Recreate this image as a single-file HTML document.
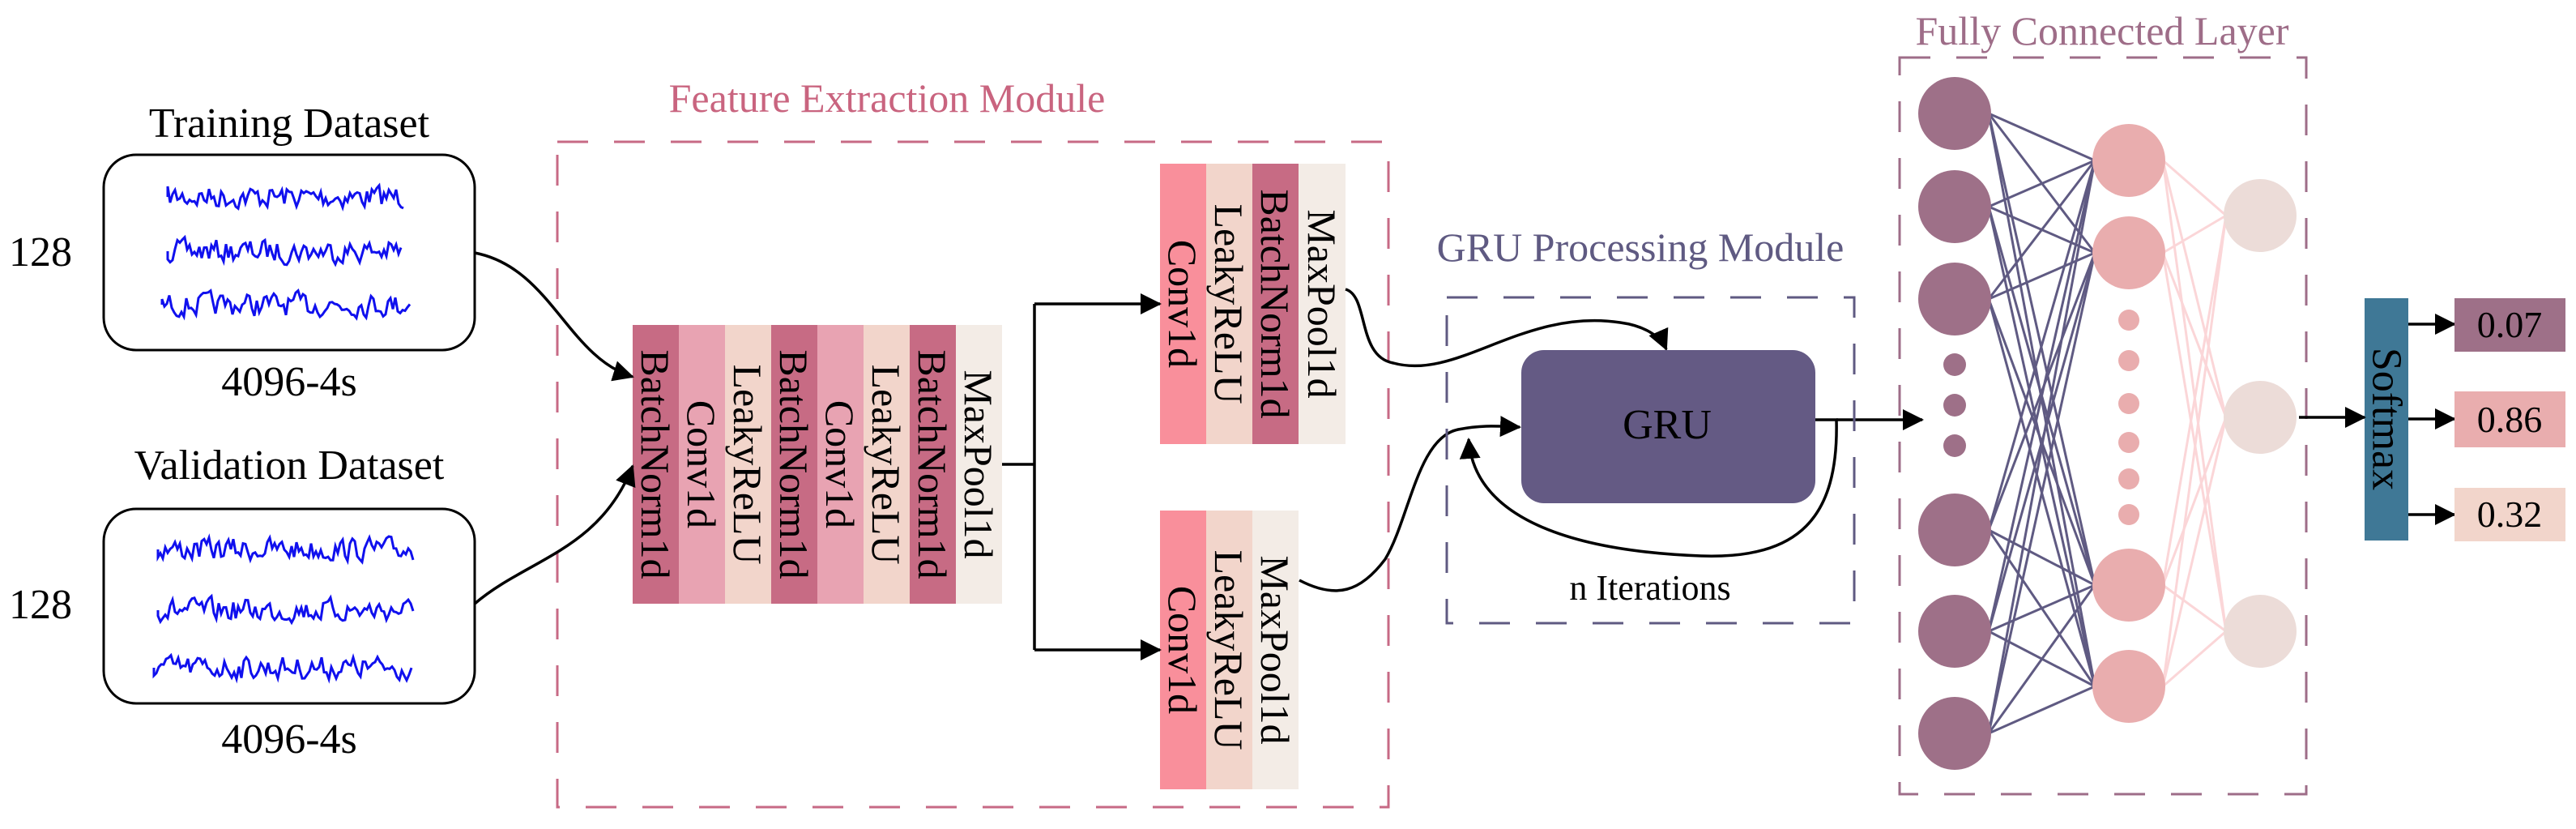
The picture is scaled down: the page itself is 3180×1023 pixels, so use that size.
<!DOCTYPE html>
<html><head><meta charset="utf-8"><style>
html,body{margin:0;padding:0;background:#fff;}
svg text{font-family:"Liberation Serif","DejaVu Serif",serif;}
</style></head><body>
<svg id="s" width="3180" height="1018" viewBox="0 0 3180 1018" xmlns="http://www.w3.org/2000/svg" font-family="Liberation Serif, serif">
<defs>
<marker id="ab" markerWidth="26" markerHeight="26" refX="24" refY="13" orient="auto" markerUnits="userSpaceOnUse" viewBox="0 0 26 26">
<path d="M0,0 L26,13 L0,26 z" fill="#000"/></marker>
</defs>

<!-- datasets -->
<text x="357" y="169" font-size="52" text-anchor="middle">Training Dataset</text>
<rect x="128" y="191" width="458" height="241" rx="40" fill="#fff" stroke="#000" stroke-width="3"/>
<text x="50" y="328" font-size="52" text-anchor="middle">128</text>
<text x="357" y="488" font-size="52" text-anchor="middle">4096-4s</text>
<text x="357" y="591" font-size="52" text-anchor="middle">Validation Dataset</text>
<rect x="128" y="628" width="458" height="240" rx="40" fill="#fff" stroke="#000" stroke-width="3"/>
<text x="50" y="763" font-size="52" text-anchor="middle">128</text>
<text x="357" y="929" font-size="52" text-anchor="middle">4096-4s</text>
<g id="sig" fill="none" stroke="#1010ee" stroke-width="3"></g>

<!-- feature extraction -->
<text x="1095" y="138" font-size="50" text-anchor="middle" fill="#c9647f">Feature Extraction Module</text>
<rect x="688" y="175" width="1026" height="821" fill="none" stroke="#c76a85" stroke-width="3" stroke-dasharray="38,32"/>

<g font-size="50">
<rect x="781" y="401" width="57" height="344" fill="#c76b84"/>
<rect x="838" y="401" width="57" height="344" fill="#e8a3b2"/>
<rect x="895" y="401" width="57" height="344" fill="#f2d5cb"/>
<rect x="952" y="401" width="57" height="344" fill="#c76b84"/>
<rect x="1009" y="401" width="57" height="344" fill="#e8a3b2"/>
<rect x="1066" y="401" width="57" height="344" fill="#f2d5cb"/>
<rect x="1123" y="401" width="57" height="344" fill="#c76b84"/>
<rect x="1180" y="401" width="57" height="344" fill="#f3ece6"/>
<text transform="translate(809,573) rotate(90)" text-anchor="middle" dominant-baseline="central">BatchNorm1d</text>
<text transform="translate(866,573) rotate(90)" text-anchor="middle" dominant-baseline="central">Conv1d</text>
<text transform="translate(923,573) rotate(90)" text-anchor="middle" dominant-baseline="central">LeakyReLU</text>
<text transform="translate(980,573) rotate(90)" text-anchor="middle" dominant-baseline="central">BatchNorm1d</text>
<text transform="translate(1037,573) rotate(90)" text-anchor="middle" dominant-baseline="central">Conv1d</text>
<text transform="translate(1094,573) rotate(90)" text-anchor="middle" dominant-baseline="central">LeakyReLU</text>
<text transform="translate(1151,573) rotate(90)" text-anchor="middle" dominant-baseline="central">BatchNorm1d</text>
<text transform="translate(1208,573) rotate(90)" text-anchor="middle" dominant-baseline="central">MaxPool1d</text>

<rect x="1432" y="202" width="57" height="346" fill="#f98f9b"/>
<rect x="1489" y="202" width="57" height="346" fill="#f2d5cb"/>
<rect x="1546" y="202" width="57" height="346" fill="#c76b84"/>
<rect x="1603" y="202" width="58" height="346" fill="#f3ece6"/>
<text transform="translate(1460,375) rotate(90)" text-anchor="middle" dominant-baseline="central">Conv1d</text>
<text transform="translate(1517,375) rotate(90)" text-anchor="middle" dominant-baseline="central">LeakyReLU</text>
<text transform="translate(1574,375) rotate(90)" text-anchor="middle" dominant-baseline="central">BatchNorm1d</text>
<text transform="translate(1632,375) rotate(90)" text-anchor="middle" dominant-baseline="central">MaxPool1d</text>

<rect x="1432" y="630" width="57" height="344" fill="#f98f9b"/>
<rect x="1489" y="630" width="57" height="344" fill="#f2d5cb"/>
<rect x="1546" y="630" width="57" height="344" fill="#f3ece6"/>
<text transform="translate(1460,802) rotate(90)" text-anchor="middle" dominant-baseline="central">Conv1d</text>
<text transform="translate(1517,802) rotate(90)" text-anchor="middle" dominant-baseline="central">LeakyReLU</text>
<text transform="translate(1574,802) rotate(90)" text-anchor="middle" dominant-baseline="central">MaxPool1d</text>
</g>

<g fill="none" stroke="#000" stroke-width="3.5">
<path d="M586,312 C680,330 700,440 781,465" marker-end="url(#ab)"/>
<path d="M586,745 C650,690 740,680 781,575" marker-end="url(#ab)"/>
<path d="M1237,573 H1277 M1277,375 V802"/>
<path d="M1277,375 H1432" marker-end="url(#ab)"/>
<path d="M1277,802 H1432" marker-end="url(#ab)"/>
<path d="M1661,357 C1690,365 1675,440 1720,448 C1800,470 1880,380 2000,398 C2030,402 2050,415 2057,431" marker-end="url(#ab)"/>
<path d="M1604,716 C1650,740 1680,730 1710,690 C1740,640 1750,540 1800,530 C1830,524 1850,526 1876,527" marker-end="url(#ab)"/>
<path d="M2241,518 H2267 C2270,640 2220,690 2100,686 C1940,680 1820,640 1813,542" marker-end="url(#ab)"/>
<path d="M2267,518 H2373" marker-end="url(#ab)"/>
</g>

<!-- GRU -->
<text x="2025" y="322" font-size="50" text-anchor="middle" fill="#5f5a82">GRU Processing Module</text>
<rect x="1786" y="367" width="503" height="402" fill="none" stroke="#5f5a82" stroke-width="3" stroke-dasharray="38,32"/>
<rect x="1878" y="432" width="363" height="189" rx="28" fill="#645a84"/>
<text x="2058" y="541" font-size="52" text-anchor="middle">GRU</text>
<text x="2037" y="740" font-size="44" text-anchor="middle">n Iterations</text>

<!-- FC -->
<text x="2595" y="55" font-size="50" text-anchor="middle" fill="#9e6d88">Fully Connected Layer</text>
<rect x="2345" y="71" width="502" height="909" fill="none" stroke="#9e6d88" stroke-width="3" stroke-dasharray="38,32"/>
<g id="fc"></g>

<rect x="2919" y="368" width="54" height="299" fill="#3f7896"/>
<text transform="translate(2946,517) rotate(90)" font-size="52" text-anchor="middle" dominant-baseline="central">Softmax</text>
<g fill="none" stroke="#000" stroke-width="3.5">
<path d="M2838,515 H2919" marker-end="url(#ab)"/>
<path d="M2973,400 H3030" marker-end="url(#ab)"/>
<path d="M2973,517 H3030" marker-end="url(#ab)"/>
<path d="M2973,635 H3030" marker-end="url(#ab)"/>
</g>
<rect x="3030" y="368" width="137" height="66" fill="#9e7088"/>
<rect x="3030" y="483" width="137" height="69" fill="#e9adae"/>
<rect x="3030" y="602" width="137" height="66" fill="#f2d5cb"/>
<text x="3098" y="416" font-size="46" text-anchor="middle">0.07</text>
<text x="3098" y="533" font-size="46" text-anchor="middle">0.86</text>
<text x="3098" y="650" font-size="46" text-anchor="middle">0.32</text>
</svg>
<script>
(function(){
var NS="http://www.w3.org/2000/svg";
var seed=7;function r(){seed=(seed*16807)%2147483647;return seed/2147483647;}
var g=document.getElementById('sig');
[[243,207,500],[310,207,495],[376,200,507],[678,195,510],[753,195,510],[824,190,508]].forEach(function(a){
 var d="M"+a[1]+","+a[0];var y=a[0];for(var x=a[1];x<=a[2];x+=3){y=a[0]+(r()-0.5)*26+(y-a[0])*0.3;d+=" L"+x+","+y.toFixed(1);}
 var p=document.createElementNS(NS,'path');p.setAttribute('d',d);g.appendChild(p);});
var fc=document.getElementById('fc');
var L1=[140,255,369,654,779,905],L2=[198,312,722,847],L3=[266,515,779];
function line(x1,y1,x2,y2,c,w){var l=document.createElementNS(NS,'line');l.setAttribute('x1',x1);l.setAttribute('y1',y1);l.setAttribute('x2',x2);l.setAttribute('y2',y2);l.setAttribute('stroke',c);l.setAttribute('stroke-width',w);fc.appendChild(l);}
function circ(x,y,rr,c){var e=document.createElementNS(NS,'circle');e.setAttribute('cx',x);e.setAttribute('cy',y);e.setAttribute('r',rr);e.setAttribute('fill',c);fc.appendChild(e);}
L1.forEach(function(a){L2.forEach(function(b){line(2455,a,2586,b,'#5f5a82',3);});});
L2.forEach(function(a){L3.forEach(function(b){line(2670,a,2748,b,'#fbd6d8',3);});});
L1.forEach(function(y){circ(2413,y,45,'#9e7088');});
[450,500,550].forEach(function(y){circ(2413,y,14,'#9e7088');});
L2.forEach(function(y){circ(2628,y,45,'#e9adae');});
[395,445,498,546,591,635].forEach(function(y){circ(2628,y,13,'#e9adae');});
L3.forEach(function(y){circ(2790,y,45,'#ecdcd8');});
})();
</script>
</body></html>
